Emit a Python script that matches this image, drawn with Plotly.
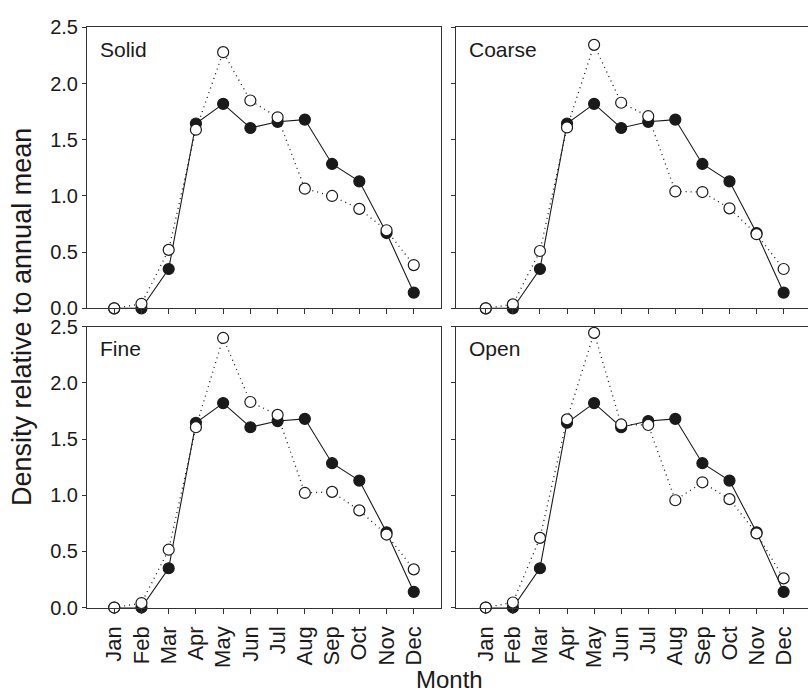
import plotly.graph_objects as go

# Monthly density relative to the annual mean
months = ["Jan", "Feb", "Mar", "Apr", "May", "Jun",
          "Jul", "Aug", "Sep", "Oct", "Nov", "Dec"]
month_pos = list(range(1, 13))

# all habitats combined (filled circles, solid line) — same in every panel
all_habitats = [0.0, 0.0, 0.35, 1.645, 1.82, 1.605, 1.66, 1.68, 1.285, 1.13, 0.67, 0.14]

# individual habitat types (open circles, dotted line)
panel_names = ["Solid", "Coarse", "Fine", "Open"]
solid = [0.0, 0.04, 0.52, 1.59, 2.28, 1.85, 1.70, 1.065, 1.0, 0.885, 0.695, 0.385]
coarse = [0.0, 0.035, 0.51, 1.61, 2.345, 1.83, 1.71, 1.04, 1.035, 0.89, 0.66, 0.35]
fine = [0.0, 0.04, 0.515, 1.605, 2.40, 1.83, 1.715, 1.02, 1.03, 0.865, 0.65, 0.34]
open_ = [0.0, 0.045, 0.62, 1.675, 2.445, 1.63, 1.625, 0.955, 1.115, 0.965, 0.66, 0.26]
panel_values = [solid, coarse, fine, open_]

y_ticks = [0.0, 0.5, 1.0, 1.5, 2.0, 2.5]

W, H = 808, 697
FONT = "Liberation Sans, Arial, Helvetica, sans-serif"
INK = "#1a1a1a"
AXIS = "#333333"


def fx(p):
    return p / W


def fy(p):
    return 1 - p / H


col_px = [(87, 441), (456, 808)]
row_px = [(17, 307), (326, 616)]
x_ranges = [[0, 13], [-0.1, 12.9]]

fig = go.Figure()
layout = {}
annotations = []

for i, (name, vals) in enumerate(zip(panel_names, panel_values)):
    row, col = divmod(i, 2)
    sx = "" if i == 0 else str(i + 1)
    xa, ya = "x" + sx, "y" + sx

    # connecting lines first so all markers sit on top
    fig.add_trace(go.Scatter(x=month_pos, y=all_habitats, mode="lines",
                             line=dict(color=INK, width=1.1),
                             xaxis=xa, yaxis=ya, cliponaxis=False,
                             showlegend=False, hoverinfo="skip"))
    fig.add_trace(go.Scatter(x=month_pos, y=vals, mode="lines",
                             line=dict(color=INK, width=1.3, dash="1px,4px"),
                             xaxis=xa, yaxis=ya, cliponaxis=False,
                             showlegend=False, hoverinfo="skip"))
    fig.add_trace(go.Scatter(x=month_pos, y=all_habitats, mode="markers",
                             marker=dict(size=11, color=INK,
                                         line=dict(color=INK, width=1.2)),
                             xaxis=xa, yaxis=ya, cliponaxis=False,
                             showlegend=False, name="All"))
    fig.add_trace(go.Scatter(x=month_pos, y=vals, mode="markers",
                             marker=dict(size=11, color="white",
                                         line=dict(color=INK, width=1.2)),
                             xaxis=xa, yaxis=ya, cliponaxis=False,
                             showlegend=False, name=name))

    x0, x1 = col_px[col]
    y0, y1 = row_px[row]
    layout["xaxis" + sx] = dict(
        domain=[fx(x0), fx(x1)], range=x_ranges[col], anchor=ya,
        showline=True, linecolor=AXIS, linewidth=1, mirror=True,
        ticks="outside", ticklen=5, tickwidth=1, tickcolor=AXIS,
        tickvals=month_pos, ticktext=months, tickangle=-90,
        ticklabelstandoff=4,
        showticklabels=(row == 1), showgrid=False, zeroline=False,
        tickfont=dict(family=FONT, size=22, color=INK),
    )
    layout["yaxis" + sx] = dict(
        domain=[fy(y1), fy(y0)], range=[0, 2.5], anchor=xa,
        showline=True, linecolor=AXIS, linewidth=1, mirror=(col == 0),
        ticks="outside", ticklen=4, tickwidth=1, tickcolor=AXIS,
        tickvals=y_ticks, ticktext=["%.1f" % v for v in y_ticks],
        showticklabels=(col == 0), showgrid=False, zeroline=False,
        tickfont=dict(family=FONT, size=20, color=INK),
    )
    annotations.append(dict(
        text=name, xref="paper", yref="paper",
        x=fx(x0 + 11), y=fy(y0 + 9), xanchor="left", yanchor="top",
        showarrow=False, font=dict(family=FONT, size=21, color=INK),
    ))

annotations.append(dict(
    text="Density relative to annual mean", xref="paper", yref="paper",
    x=fx(22), y=fy(316), xanchor="center", yanchor="middle", textangle=-90,
    showarrow=False, font=dict(family=FONT, size=27, color=INK),
))
annotations.append(dict(
    text="Month", xref="paper", yref="paper",
    x=fx(449), y=fy(690), xanchor="center", yanchor="middle",
    showarrow=False, font=dict(family=FONT, size=24, color=INK),
))

fig.update_layout(
    width=W, height=H, margin=dict(l=0, r=0, t=0, b=0),
    paper_bgcolor="white", plot_bgcolor="white",
    annotations=annotations, **layout,
)

fig.write_html("out.html")
